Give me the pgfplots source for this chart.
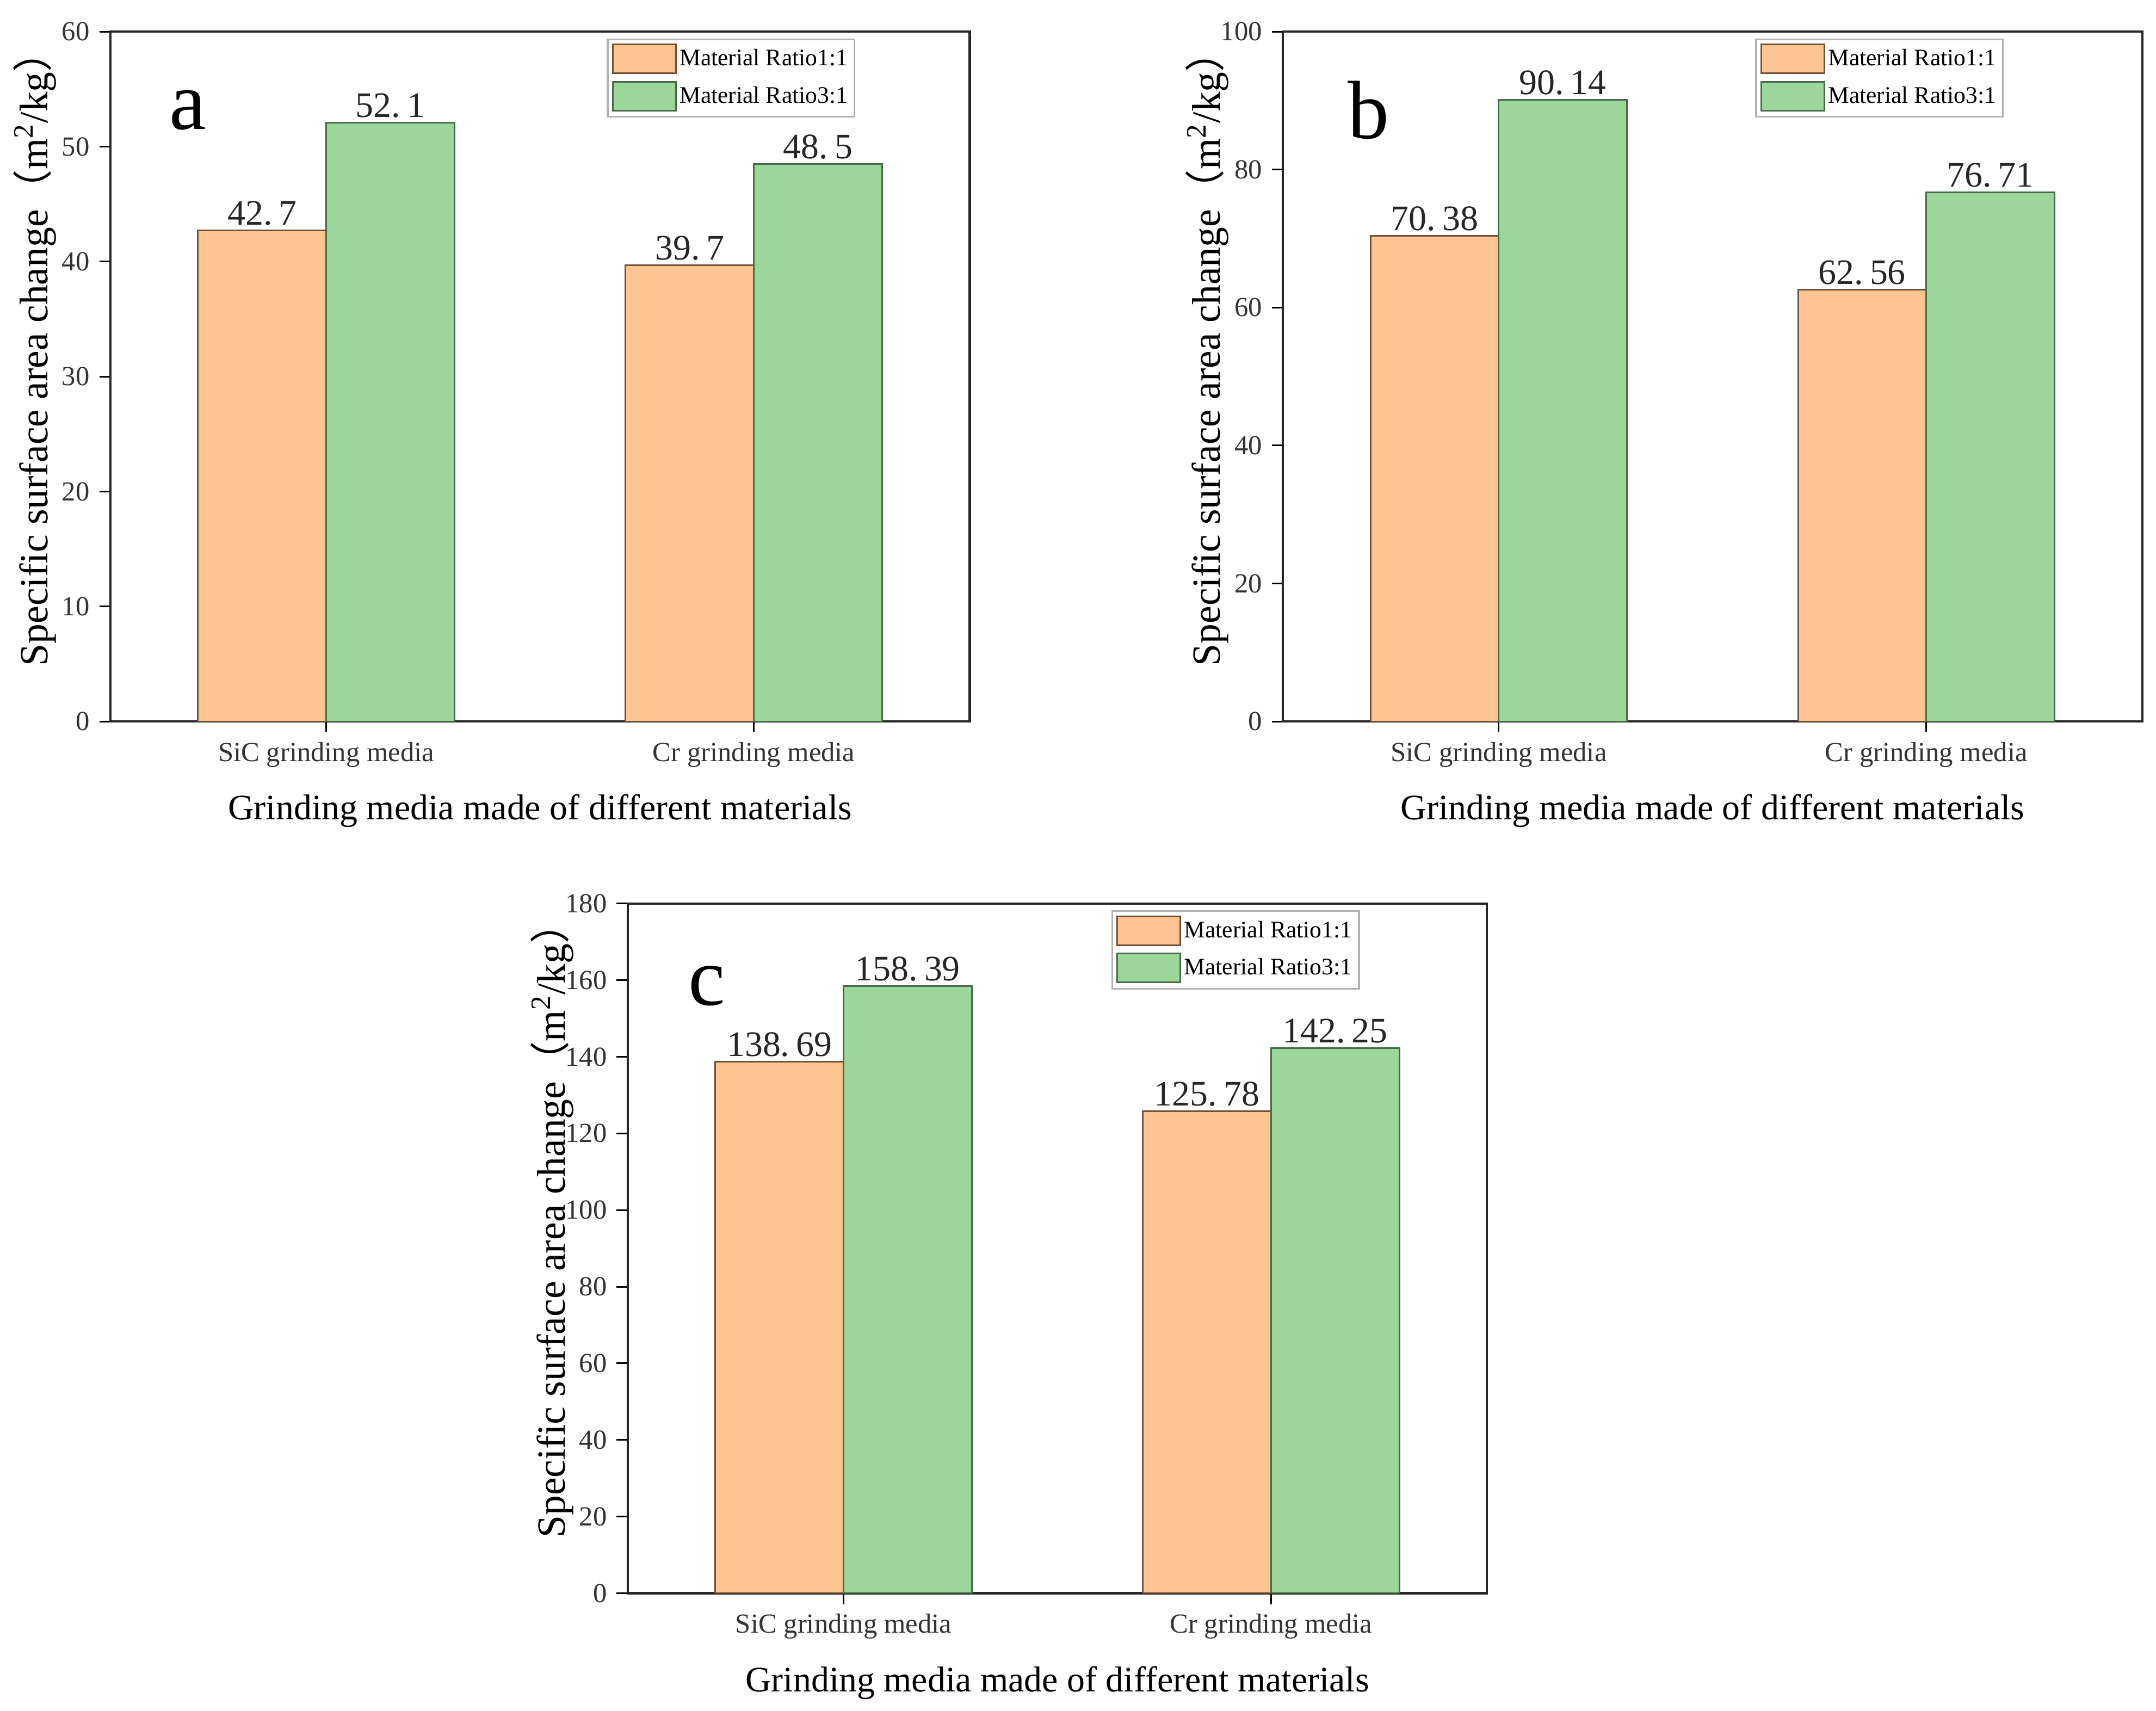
\documentclass[border=0pt]{standalone}
\usepackage{pgfplots}
\usepackage{pgfplotstable}
\pgfplotsset{compat=1.18}
\usepackage{fontspec}
\setmainfont{Liberation Serif}
\newfontfamily\cjk{Noto Sans CJK SC}
\definecolor{orF}{HTML}{FEC593}
\definecolor{orE}{HTML}{6E5236}
\definecolor{grF}{HTML}{9BD69B}
\definecolor{grE}{HTML}{466B46}

% panel a
\pgfplotstableread{
x y
0 42.7
1 39.7
}\aOne
\pgfplotstableread{
x y
0 52.1
1 48.5
}\aThree
% panel b
\pgfplotstableread{
x y
0 70.38
1 62.56
}\bOne
\pgfplotstableread{
x y
0 90.14
1 76.71
}\bThree
% panel c
\pgfplotstableread{
x y
0 138.69
1 125.78
}\cOne
\pgfplotstableread{
x y
0 158.39
1 142.25
}\cThree

\pgfplotsset{
 panel/.style={
  scale only axis, width=311.5pt, height=250pt, anchor=south west,
  ybar, bar width=0.3, xmin=-0.505, xmax=1.505, ymin=0,
  xtick={0,1}, xticklabels={SiC grinding media, Cr grinding media},
  tick align=outside, xtick pos=bottom, ytick pos=left, major tick length=4pt,
  tick style={black, line width=0.6pt},
  axis line style={line width=0.8pt, black!85},
  /pgf/number format/assume math mode=true,
  ticklabel style={font=\fontsize{10}{12}\selectfont, text=black!80},
  xlabel={Grinding media made of different materials},
  ylabel={Specific surface area change{\cjk （}m\textsuperscript{2}/kg{\cjk ）}},
  xlabel style={font=\fontsize{13}{15}\selectfont, at={(axis description cs:0.5,-0.13)}, anchor=center},
  ylabel style={font=\fontsize{14.5}{16}\selectfont, at={(axis description cs:-0.088,0.54)}, anchor=center},
  nodes near coords={\pgfmathprintnumber[assume math mode=true, set decimal separator={.\hspace{0.18em}}]{\pgfplotspointmeta}},
  nodes near coords style={font=\fontsize{13}{15}\selectfont, text=black!85, inner sep=1.5pt},
  legend style={draw=gray!60, line width=0.6pt, font=\fontsize{8.6}{10}\selectfont, inner sep=1.5pt, row sep=2pt, nodes={inner xsep=1pt}},
  legend cell align=left,
  legend image code/.code={\draw[#1] (0pt,-5pt) rectangle (23pt,5.5pt);},
 },
 s1/.style={fill=orF, draw=orE, line width=0.6pt, bar shift=-0.15},
 s3/.style={fill=grF, draw=grE, line width=0.6pt, bar shift=0.15},
}

\begin{document}
\begin{tikzpicture}
\path[use as bounding box] (0,0) rectangle (781.5pt,620pt);

\begin{axis}[panel, at={(40pt,358.5pt)}, ymax=60, ytick={0,10,...,60},
  legend style={at={(0.867,0.99)}, anchor=north east}]
\addplot[s1] table[x=x,y=y] {\aOne};
\addplot[s3] table[x=x,y=y] {\aThree};
\legend{Material Ratio1:1, Material Ratio3:1}
\node[font=\fontsize{30}{30}\selectfont] at (rel axis cs:0.09,0.886) {a};
\end{axis}

\begin{axis}[panel, at={(465pt,358.5pt)}, ymax=100, ytick={0,20,...,100},
  legend style={at={(0.839,0.99)}, anchor=north east}]
\addplot[s1] table[x=x,y=y] {\bOne};
\addplot[s3] table[x=x,y=y] {\bThree};
\legend{Material Ratio1:1, Material Ratio3:1}
\node[font=\fontsize{30}{30}\selectfont] at (rel axis cs:0.10,0.886) {b};
\end{axis}

\begin{axis}[panel, at={(227.5pt,42.5pt)}, ymax=180, ytick={0,20,...,180},
  legend style={at={(0.852,0.99)}, anchor=north east}]
\addplot[s1] table[x=x,y=y] {\cOne};
\addplot[s3] table[x=x,y=y] {\cThree};
\legend{Material Ratio1:1, Material Ratio3:1}
\node[font=\fontsize{30}{30}\selectfont] at (rel axis cs:0.092,0.88) {c};
\end{axis}
\end{tikzpicture}
\end{document}
